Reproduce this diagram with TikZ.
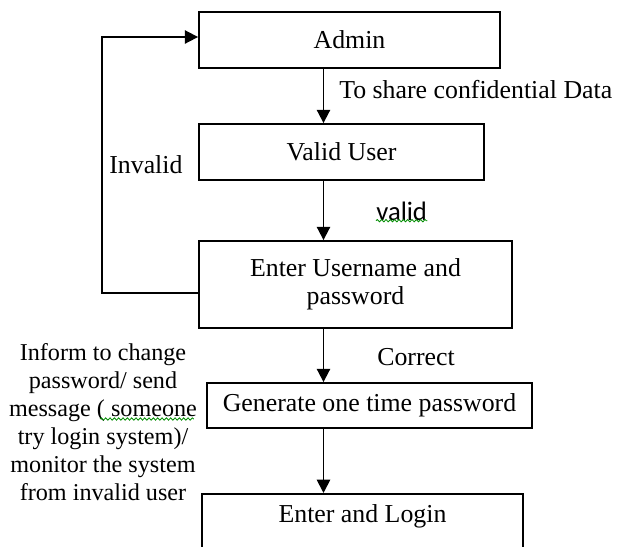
\documentclass[tikz,border=0pt]{standalone}
\usepackage{fontspec}
\setmainfont{Liberation Serif}
\newfontfamily\calibri{Carlito}
\usetikzlibrary{arrows.meta,positioning,decorations.pathmorphing}
\tikzset{
  box/.style={rectangle, draw=black, line width=1.1pt, align=center, inner sep=0pt,
              font=\fontsize{15.5}{16.8}\selectfont},
  ar/.style={-{Triangle[length=8pt,width=8pt]}, line width=1.1pt},
  lbl/.style={font=\fontsize{15.5}{16.8}\selectfont, align=center, inner sep=0pt},
  squiggle/.style={draw=green!55!black, line width=0.5pt, decorate,
                   decoration={snake, amplitude=0.7pt, segment length=2.6pt}},
}

\begin{document}
\begin{tikzpicture}[x=0.6pt,y=-0.6pt]
\useasboundingbox (0,0) rectangle (624,547);
\clip (0,0) rectangle (624,547);
% boxes
\node[box, minimum width=180.6pt, minimum height=33.6pt] (admin) at (349.5,40) {Admin};
\node[box, minimum width=171pt, minimum height=33.6pt] (valid) at (341.5,152) {Valid User};
\node[box, minimum width=187.8pt, minimum height=52.2pt] (enter) at (355.5,284.5) {Enter Username and\\password};
\node[box, minimum width=195pt, minimum height=27pt] (otp) at (369.5,405.5) {Generate one time password};
\node[box, anchor=north, minimum width=192.6pt, text height=17.4pt, text depth=46.8pt] (login) at (362.5,493) {Enter and Login};

% arrows down the middle column
\coordinate (spine) at (323.5,0);
\draw[ar] (admin.south -| spine) -- (valid.north -| spine);
\draw[ar] (valid.south -| spine) -- (enter.north -| spine);
\draw[ar] (enter.south -| spine) -- (otp.north -| spine);
\draw[ar] (otp.south -| spine) -- (login.north -| spine);

% invalid: back to admin
\coordinate (loopbot) at (102,293);
\coordinate (looptop) at (102,37);
\draw[ar] (loopbot -| enter.west) -- (loopbot) -- (looptop) -- (looptop -| admin.west);

% labels
\node[lbl, anchor=west] (share) at (339,90) {To share confidential Data};
\node[lbl, anchor=west] (inv) at (109,165) {Invalid};
\node[lbl, anchor=west, font=\calibri\fontsize{16}{18}\selectfont] (vlbl) at (376,211) {valid};
\node[lbl, anchor=west] (corr) at (377,357) {Correct};
\node[lbl, font=\fontsize{14.5}{16.8}\selectfont] (inform) at (103,422) {Inform to change\\password/ send\\message ( someone\\try login system)/\\monitor the system\\from invalid user};

% spell-check marks
\draw[squiggle, yshift=-1.5pt] (vlbl.south west) -- (vlbl.south east);
\draw[squiggle] (100,419) -- (194,419);
\end{tikzpicture}
\end{document}
